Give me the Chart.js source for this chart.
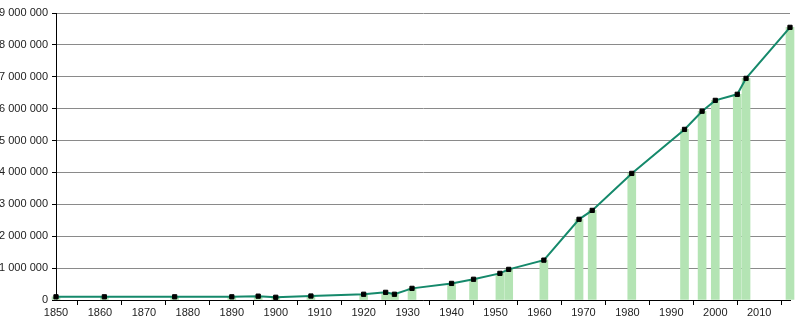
<!DOCTYPE html>
<html>
<head>
<meta charset="utf-8">
<script src="https://cdn.jsdelivr.net/npm/chart.js@4"></script>
<style>
  html, body { margin: 0; padding: 0; background: #fff; }
  #wrap { width: 800px; height: 320px; }
</style>
</head>
<body>
<div id="wrap"><canvas id="popChart"></canvas></div>
<script>
// census years and population
const years = [1850, 1861, 1877, 1890, 1896, 1900, 1908, 1920, 1925, 1927, 1931, 1940, 1945, 1951, 1953, 1961, 1969, 1972, 1981, 1993, 1997, 2000, 2005, 2007, 2017];
const population = [100000, 100000, 100000, 100000, 120000, 85000, 125000, 180000, 240000, 180000, 365000, 520000, 650000, 835000, 960000, 1250000, 2530000, 2810000, 3970000, 5350000, 5920000, 6260000, 6450000, 6950000, 8550000];
const xTicks = [1850, 1860, 1870, 1880, 1890, 1900, 1910, 1920, 1930, 1940, 1950, 1960, 1970, 1980, 1990, 2000, 2010];
const yTicks = [0, 1000000, 2000000, 3000000, 4000000, 5000000, 6000000, 7000000, 8000000, 9000000];

const points = years.map((y, i) => ({ x: y, y: population[i] }));

function spaced(v) {
    return String(v).replace(/\B(?=(\d{3})+(?!\d))/g, ' ');
}

Chart.defaults.font.family = 'Arial, "Liberation Sans", sans-serif';
Chart.defaults.font.size = 11;
Chart.defaults.color = '#222';

const ctx = document.getElementById('popChart').getContext('2d');
const popChart = new Chart(ctx, {
    type: 'bar',
    data: {
        datasets: [{
            type: 'line',
            data: points,
            borderColor: '#15896b',
            borderWidth: 2,
            pointStyle: 'rect',
            pointRadius: 3,
            pointBackgroundColor: '#000',
            pointBorderColor: '#000',
            pointBorderWidth: 1,
            tension: 0,
            order: 0,
            clip: 6
        }, {
            type: 'bar',
            data: points,
            backgroundColor: '#b4e4b4',
            barThickness: 8,
            order: 1,
            clip: 6
        }]
    },
    options: {
        responsive: true,
        maintainAspectRatio: false,
        animation: false,
        layout: { padding: { top: 13, right: 10, left: 0, bottom: 0 } },
        plugins: { legend: { display: false }, tooltip: { enabled: false } },
        scales: {
            x: {
                type: 'linear',
                min: 1850,
                max: 2017,
                offset: false,
                afterBuildTicks: s => { s.ticks = xTicks.map(v => ({ value: v })); },
                afterFit: s => { s.height = 20; },
                ticks: { autoSkip: false, padding: 1, maxRotation: 0, callback: v => String(v) },
                grid: { drawOnChartArea: false, drawTicks: true, tickLength: 5, color: '#000' },
                border: { color: '#000', width: 1 }
            },
            y: {
                min: 0,
                max: 9000000,
                afterFit: s => { s.width = 56; },
                ticks: {
                    stepSize: 500000,
                    padding: 4,
                    callback: v => yTicks.includes(v) ? spaced(v) : ''
                },
                grid: {
                    color: c => (c.tick && c.tick.value % 1000000 === 0) ? '#8a8a8a' : '#e6e6e6',
                    tickColor: '#000',
                    tickLength: 4
                },
                border: { color: '#000', width: 1 }
            }
        }
    }
});
</script>
</body>
</html>
